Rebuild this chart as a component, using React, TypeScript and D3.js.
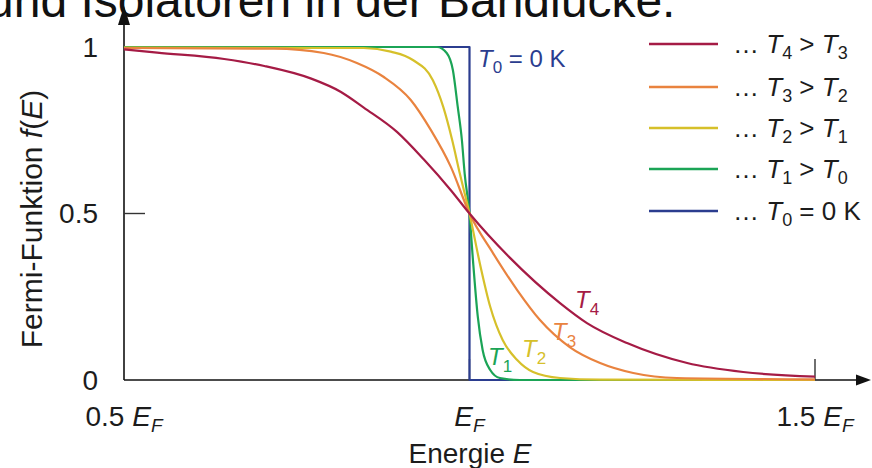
import React from 'react';
import * as d3 from 'd3';

const W = 872;
const H = 468;

// Curve data (energy in units of E_F, f(E))
const t0E = [0.5, 1.0, 1.0, 1.5];
const t0F = [1, 1, 0, 0];

const t1E = [0.5, 0.953, 0.967, 0.976, 0.983, 0.989, 0.993, 1.0, 1.005, 1.012, 1.019, 1.03, 1.044, 1.073, 1.5];
const t1F = [1.0, 1.0, 0.982, 0.93, 0.82, 0.72, 0.62, 0.5, 0.36, 0.19, 0.09, 0.03, 0.006, 0.0, 0.0];

const t2E = [0.5, 0.847, 0.886, 0.918, 0.947, 0.962, 0.975, 0.986, 1.0, 1.015, 1.03, 1.048, 1.069, 1.092, 1.131, 1.189, 1.5];
const t2F = [0.998, 0.997, 0.986, 0.961, 0.9, 0.82, 0.72, 0.62, 0.5, 0.35, 0.22, 0.12, 0.06, 0.024, 0.006, 0.001, 0.0];

const t3E = [0.5, 0.717, 0.789, 0.837, 0.876, 0.915, 0.944, 0.973, 1.0, 1.034, 1.069, 1.102, 1.145, 1.189, 1.237, 1.3, 1.5];
const t3F = [0.997, 0.995, 0.982, 0.952, 0.91, 0.841, 0.751, 0.64, 0.5, 0.381, 0.27, 0.18, 0.099, 0.051, 0.021, 0.006, 0.002];

const t4E = [0.5, 0.548, 0.645, 0.703, 0.771, 0.814, 0.847, 0.895, 0.934, 0.973, 1.0, 1.059, 1.131, 1.17, 1.228, 1.315, 1.396, 1.5];
const t4F = [0.993, 0.983, 0.964, 0.943, 0.905, 0.865, 0.818, 0.745, 0.662, 0.57, 0.5, 0.366, 0.231, 0.171, 0.111, 0.051, 0.024, 0.01];

const seriesColors = ['#2b3d8f', '#1ba456', '#d6c02a', '#e9833f', '#a51b45'];
const seriesE = [t0E, t1E, t2E, t3E, t4E];
const seriesF = [t0F, t1F, t2F, t3F, t4F];

// Legend (top to bottom): T4>T3, T3>T2, T2>T1, T1>T0, T0=0K
const legendIdx = [4, 3, 2, 1, 0];
const legendA = ['4', '3', '2', '1', '0'];
const legendOp = ['>', '>', '>', '>', '='];
const legendB = ['3', '2', '1', '0', null];

const yTicks = [0, 0.5, 1];
const yTickLabels = ['0', '0.5', '1'];
const xTicks = [0.5, 1.0, 1.5];
const xTickPrefix = ['0.5 ', '', '1.5 '];

// curve labels T1..T4
const curveLabelIdx = [1, 2, 3, 4];
const curveLabelPos: [number, number][] = [[488, 365], [522, 357], [552, 340], [575, 308]];

const FONT = '"Liberation Sans", Arial, Helvetica, sans-serif';
const INK = '#1c1c1c';

export default function App() {
  const x = d3.scaleLinear().domain([0.5, 1.5]).range([124, 815]);
  const y = d3.scaleLinear().domain([0, 1]).range([380, 47]);

  const makeLine = (i: number) => {
    const pts: [number, number][] = seriesE[i].map((e, k) => [e, seriesF[i][k]]);
    const gen = d3
      .line<[number, number]>()
      .x((d) => x(d[0]))
      .y((d) => y(d[1]))
      .curve(i === 0 ? d3.curveLinear : d3.curveMonotoneX);
    return gen(pts) || '';
  };

  const x0 = x(0.5);
  const yBase = y(0);
  const legendRows = [44, 87, 128, 169, 211];

  return (
    <svg
      width={W}
      height={H}
      viewBox={`0 0 ${W} ${H}`}
      style={{ position: 'absolute', left: 0, top: 0, background: '#fff' }}
      fontFamily={FONT}
    >
      <rect x={0} y={0} width={W} height={H} fill="#fff" />
      {/* cut-off heading */}
      <text x={-13} y={17} fontSize={48} fill="#111">und Isolatoren in der Bandlücke.</text>

      {/* axes */}
      <line x1={x0} y1={yBase} x2={x0} y2={24} stroke="#111" strokeWidth={1.6} />
      <polygon points={`${x0},6 ${x0 - 6},25 ${x0 + 6},25`} fill="#111" />
      <line x1={x0} y1={yBase} x2={858} y2={yBase} stroke="#111" strokeWidth={1.6} />
      <polygon points={`871,${yBase} 856,${yBase - 5.5} 856,${yBase + 5.5}`} fill="#111" />

      {/* y ticks */}
      {yTicks.filter((t) => t > 0).map((t) => (
        <line key={'yt' + t} x1={x0} x2={x0 + 21} y1={y(t)} y2={y(t)} stroke="#333" strokeWidth={1.4} />
      ))}
      {/* x ticks */}
      {xTicks.filter((t) => t > 0.5).map((t) => (
        <line key={'xt' + t} x1={x(t)} x2={x(t)} y1={yBase} y2={yBase - 21} stroke="#333" strokeWidth={1.4} />
      ))}

      {/* y tick labels */}
      {yTicks.map((t, i) => (
        <text key={'yl' + t} x={98} y={y(t)} dy="0.35em" textAnchor="end" fontSize={28} fill={INK}>
          {yTickLabels[i]}
        </text>
      ))}

      {/* x tick labels */}
      {xTicks.map((t, i) => (
        <text key={'xl' + t} x={x(t)} y={426} textAnchor="middle" fontSize={28} fill={INK} style={{ whiteSpace: 'pre' }}>
          {xTickPrefix[i]}
          <tspan fontStyle="italic">E</tspan>
          <tspan dy={6} fontSize={19} fontStyle="italic">F</tspan>
        </text>
      ))}

      {/* axis titles */}
      <text x={470} y={463} textAnchor="middle" fontSize={28} fill={INK} style={{ whiteSpace: 'pre' }}>
        {'Energie '}
        <tspan fontStyle="italic">E</tspan>
      </text>
      <text
        transform="translate(42,219) rotate(-90)"
        textAnchor="middle"
        fontSize={30}
        fill={INK}
        style={{ whiteSpace: 'pre' }}
      >
        {'Fermi-Funktion '}
        <tspan fontStyle="italic">f</tspan>
        {'('}
        <tspan fontStyle="italic">E</tspan>
        {')'}
      </text>

      {/* curves */}
      {seriesE.map((_, i) => (
        <path key={'c' + i} d={makeLine(i)} fill="none" stroke={seriesColors[i]} strokeWidth={2.2} strokeLinejoin="round" />
      ))}

      {/* T0 annotation */}
      <text x={478} y={67} fontSize={24} fill={seriesColors[0]} style={{ whiteSpace: 'pre' }}>
        <tspan fontStyle="italic">T</tspan>
        <tspan dy={6} fontSize={17}>0</tspan>
        <tspan dy={-6}>{' = 0 K'}</tspan>
      </text>

      {/* curve labels */}
      {curveLabelIdx.map((ci, k) => (
        <text key={'cl' + ci} x={curveLabelPos[k][0]} y={curveLabelPos[k][1]} fontSize={24} fill={seriesColors[ci]}>
          <tspan fontStyle="italic">T</tspan>
          <tspan dy={7} fontSize={17}>{String(ci)}</tspan>
        </text>
      ))}

      {/* legend */}
      {legendIdx.map((si, r) => (
        <g key={'lg' + r}>
          <line x1={649} x2={718} y1={legendRows[r]} y2={legendRows[r]} stroke={seriesColors[si]} strokeWidth={2.4} />
          <text x={733} y={legendRows[r] + 9} fontSize={26} fill={INK} style={{ whiteSpace: 'pre' }}>
            {'\u2026 '}
            <tspan fontStyle="italic">T</tspan>
            <tspan dy={6} fontSize={18}>{legendA[r]}</tspan>
            <tspan dy={-6}>{` ${legendOp[r]} `}</tspan>
            {legendB[r] !== null ? (
              <>
                <tspan fontStyle="italic">T</tspan>
                <tspan dy={6} fontSize={18}>{legendB[r]}</tspan>
              </>
            ) : (
              <tspan>0 K</tspan>
            )}
          </text>
        </g>
      ))}
    </svg>
  );
}
